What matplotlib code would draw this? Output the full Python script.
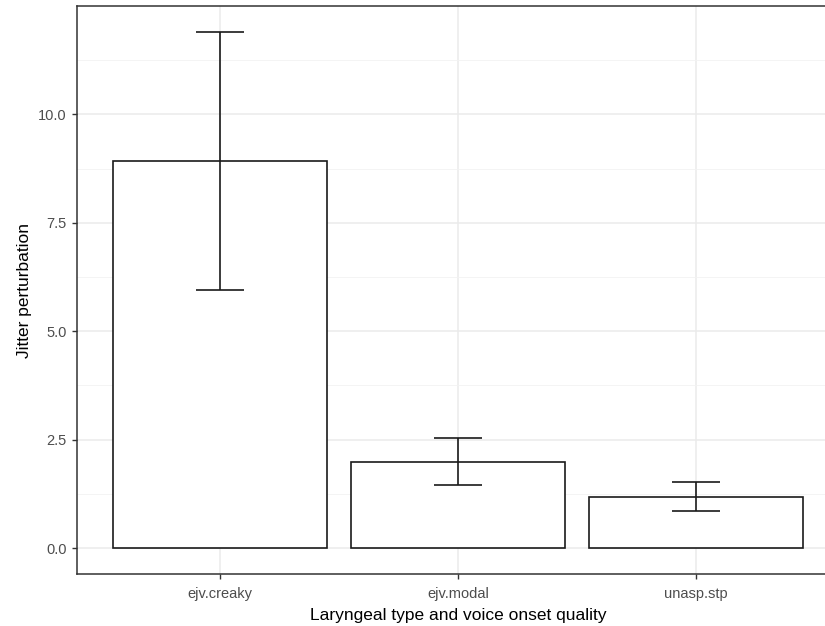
import numpy as np
import matplotlib.pyplot as plt
from matplotlib.ticker import MultipleLocator

# data
groups = ["ejv.creaky", "ejv.modal", "unasp.stp"]
jitter_mean = [8.92, 1.98, 1.19]
err_low = [5.95, 1.46, 0.85]
err_high = [11.9, 2.54, 1.52]

plt.rcParams['font.family'] = ['Liberation Sans', 'DejaVu Sans']

fig = plt.figure(figsize=(8.25, 6.26), dpi=100)
ax = fig.add_axes([77/825, 1 - 574/626, (839-77)/825, (574-6)/626])

x = np.arange(1, len(groups) + 1)
mean = np.array(jitter_mean)
yerr = [mean - np.array(err_low), np.array(err_high) - mean]

ax.bar(x, mean, width=0.9, color="white", edgecolor="#1a1a1a", linewidth=1.2, zorder=3)
ax.errorbar(x, mean, yerr=yerr, fmt="none", ecolor="#1a1a1a", elinewidth=1.2,
            capsize=17, capthick=1.2, zorder=4)

ax.set_xlim(0.4, 3.6)
ax.set_ylim(-0.595, 12.495)
ax.set_xticks(x)
ax.set_xticklabels(groups)
ax.yaxis.set_major_locator(MultipleLocator(2.5))
ax.yaxis.set_minor_locator(MultipleLocator(1.25))
ax.set_yticklabels([f"{v:.1f}" for v in ax.get_yticks()])
ax.set_ylim(-0.595, 12.495)

ax.grid(True, which="major", color="#ebebeb", linewidth=1.1, zorder=0)
ax.grid(True, which="minor", axis="y", color="#f2f2f2", linewidth=0.6, zorder=0)
ax.tick_params(which="minor", length=0)
ax.tick_params(which="major", length=3.5, width=1, color="#333333",
               labelcolor="#4d4d4d", labelsize=10.5, pad=4)
ax.tick_params(axis="x", pad=6)
for s in ax.spines.values():
    s.set_color("#333333")
    s.set_linewidth(1.1)

ax.set_xlabel("Laryngeal type and voice onset quality", fontsize=12.5, color="black", labelpad=5)
ax.set_ylabel("Jitter perturbation", fontsize=12.5, color="black", labelpad=4)

fig.savefig("out.png", dpi=100)
